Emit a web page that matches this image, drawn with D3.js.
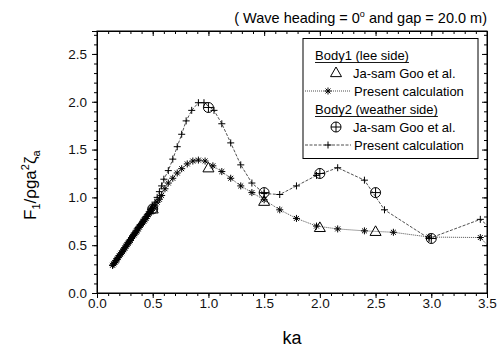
<!DOCTYPE html>
<html>
<head>
<meta charset="utf-8">
<script src="https://cdn.jsdelivr.net/npm/d3@7"></script>
<style>
  body { margin: 0; background: #fff; }
  svg { font-family: "Liberation Sans", Arial, sans-serif; }
</style>
</head>
<body>
<svg id="chart" width="499" height="348"></svg>
<script>
// Body1 (lee side) - present calculation
const body1Ka = [0.14,0.15,0.16,0.17,0.18,0.19,0.20,0.21,0.22,0.23,0.24,0.25,0.26,0.27,0.28,0.29,0.30,0.31,0.32,0.33,0.34,0.35,0.36,0.37,0.38,0.39,0.40,0.41,0.42,0.43,0.44,0.45,0.46,0.47,0.48,0.49,0.50,0.52,0.54,0.56,0.58,0.61,0.64,0.68,0.72,0.76,0.81,0.86,0.91,0.97,1.04,1.12,1.20,1.29,1.39,1.50,1.64,1.79,1.97,2.16,2.40,2.66,2.98,3.44,3.56];
const body1F  = [0.29,0.305,0.32,0.335,0.35,0.37,0.39,0.405,0.42,0.435,0.45,0.47,0.49,0.505,0.52,0.535,0.55,0.57,0.59,0.605,0.62,0.635,0.65,0.67,0.69,0.705,0.72,0.735,0.75,0.765,0.78,0.80,0.82,0.835,0.85,0.865,0.88,0.91,0.95,0.98,1.02,1.09,1.15,1.20,1.255,1.30,1.35,1.38,1.39,1.38,1.33,1.27,1.20,1.12,1.05,0.975,0.87,0.78,0.70,0.67,0.65,0.635,0.585,0.58,0.43];

// Body2 (weather side) - present calculation
const body2Ka = [0.14,0.15,0.16,0.17,0.18,0.19,0.20,0.21,0.22,0.23,0.24,0.25,0.26,0.27,0.28,0.29,0.30,0.31,0.32,0.33,0.34,0.35,0.36,0.37,0.38,0.39,0.40,0.41,0.42,0.43,0.44,0.45,0.46,0.47,0.48,0.49,0.50,0.52,0.54,0.56,0.58,0.60,0.64,0.68,0.72,0.76,0.80,0.85,0.91,0.96,1.05,1.12,1.20,1.29,1.39,1.50,1.64,1.79,1.97,2.16,2.40,2.58,2.98,3.44,3.56];
const body2F  = [0.29,0.305,0.32,0.34,0.36,0.375,0.39,0.405,0.42,0.44,0.46,0.475,0.49,0.51,0.53,0.545,0.56,0.58,0.60,0.615,0.63,0.65,0.67,0.685,0.70,0.715,0.73,0.75,0.77,0.785,0.80,0.815,0.83,0.85,0.87,0.89,0.91,0.95,1.00,1.06,1.12,1.19,1.28,1.40,1.53,1.66,1.80,1.91,1.99,1.99,1.91,1.77,1.57,1.34,1.15,1.04,1.03,1.12,1.23,1.31,1.18,0.87,0.57,0.77,0.65];

// Ja-sam Goo et al.
const gooKa1 = [0.5, 1.0, 1.5, 2.0, 2.5];
const gooF1  = [0.88, 1.31, 0.96, 0.686, 0.645];
const gooKa2 = [0.5, 1.0, 1.5, 2.0, 2.5, 3.0];
const gooF2  = [0.88, 1.94, 1.05, 1.25, 1.05, 0.57];

const xTicks = [0, 0.5, 1.0, 1.5, 2.0, 2.5, 3.0, 3.5];
const yTicks = [0, 0.5, 1.0, 1.5, 2.0, 2.5];

const svg = d3.select("#chart");
const pLeft = 97, pRight = 487, pTop = 31, pBottom = 293;

const x = d3.scaleLinear().domain([0, 3.5]).range([pLeft, pRight]);
const y = d3.scaleLinear().domain([0, 2.74]).range([pBottom, pTop]);

const minorX = d3.range(0, 3.5001, 0.1);
const minorY = d3.range(0, 2.7401, 0.1);

// frame
svg.append("rect")
  .attr("x", pLeft).attr("y", pTop)
  .attr("width", pRight - pLeft).attr("height", pBottom - pTop)
  .attr("fill", "none").attr("stroke", "#000").attr("stroke-width", 1);

// bottom axis (outward)
svg.append("g").attr("transform", "translate(0," + pBottom + ")")
  .call(d3.axisBottom(x).tickValues(xTicks).tickFormat(d3.format(".1f")).tickSize(5).tickPadding(0));
svg.append("g").attr("transform", "translate(0," + pBottom + ")")
  .call(d3.axisBottom(x).tickValues(minorX).tickFormat("").tickSize(3));
// left axis (outward)
svg.append("g").attr("transform", "translate(" + pLeft + ",0)")
  .call(d3.axisLeft(y).tickValues(yTicks).tickFormat(d3.format(".1f")).tickSize(5).tickPadding(5));
svg.append("g").attr("transform", "translate(" + pLeft + ",0)")
  .call(d3.axisLeft(y).tickValues(minorY).tickFormat("").tickSize(3));
// top axis (inward)
svg.append("g").attr("transform", "translate(0," + pTop + ")")
  .call(d3.axisTop(x).tickValues(xTicks).tickFormat("").tickSize(-5));
svg.append("g").attr("transform", "translate(0," + pTop + ")")
  .call(d3.axisTop(x).tickValues(minorX).tickFormat("").tickSize(-3));
// right axis (inward)
svg.append("g").attr("transform", "translate(" + pRight + ",0)")
  .call(d3.axisRight(y).tickValues(yTicks).tickFormat("").tickSize(-5));
svg.append("g").attr("transform", "translate(" + pRight + ",0)")
  .call(d3.axisRight(y).tickValues(minorY).tickFormat("").tickSize(-3));

svg.selectAll(".domain").attr("stroke", "#000");
svg.selectAll(".tick line").attr("stroke", "#000");
svg.selectAll(".tick text").attr("font-size", 13.5).attr("fill", "#111")
  .attr("font-family", "'Liberation Sans', Arial, sans-serif");

// clip
svg.append("clipPath").attr("id", "clip")
  .append("rect").attr("x", pLeft).attr("y", pTop).attr("width", pRight - pLeft).attr("height", pBottom - pTop);

const plot = svg.append("g").attr("clip-path", "url(#clip)");

const line = d3.line().x(d => x(d[0])).y(d => y(d[1]));
const b1 = body1Ka.map((k, i) => [k, body1F[i]]);
const b2 = body2Ka.map((k, i) => [k, body2F[i]]);

plot.append("path").datum(b1).attr("d", line)
  .attr("fill", "none").attr("stroke", "#222").attr("stroke-width", 0.8).attr("stroke-dasharray", "1,1");
plot.append("path").datum(b2).attr("d", line)
  .attr("fill", "none").attr("stroke", "#222").attr("stroke-width", 0.8).attr("stroke-dasharray", "3,1.5");

// marker helpers
function asterisk(g, cx, cy) {
  const s = 3.5;
  g.append("path")
    .attr("d", `M${cx - s},${cy}H${cx + s}M${cx - s * 0.7},${cy - s * 0.7}L${cx + s * 0.7},${cy + s * 0.7}M${cx - s * 0.7},${cy + s * 0.7}L${cx + s * 0.7},${cy - s * 0.7}M${cx},${cy - s}V${cy + s}`)
    .attr("stroke", "#000").attr("stroke-width", 1).attr("fill", "none");
}
function plus(g, cx, cy) {
  const s = 3.5;
  g.append("path").attr("d", `M${cx - s},${cy}H${cx + s}M${cx},${cy - s}V${cy + s}`)
    .attr("stroke", "#000").attr("stroke-width", 1).attr("fill", "none");
}
function triangle(g, cx, cy) {
  const s = 5.5;
  g.append("path").attr("d", `M${cx},${cy - s}L${cx + s},${cy + s * 0.75}L${cx - s},${cy + s * 0.75}Z`)
    .attr("stroke", "#000").attr("stroke-width", 1).attr("fill", "none");
}
function oplus(g, cx, cy) {
  const r = 5;
  g.append("circle").attr("cx", cx).attr("cy", cy).attr("r", r)
    .attr("stroke", "#000").attr("stroke-width", 1).attr("fill", "none");
  g.append("path").attr("d", `M${cx - r},${cy}H${cx + r}M${cx},${cy - r}V${cy + r}`)
    .attr("stroke", "#000").attr("stroke-width", 1);
}

b1.forEach(d => asterisk(plot, x(d[0]), y(d[1])));
b2.forEach(d => plus(plot, x(d[0]), y(d[1])));
gooKa1.forEach((k, i) => triangle(plot, x(k), y(gooF1[i])));
gooKa2.forEach((k, i) => oplus(plot, x(k), y(gooF2[i])));

// legend
const lg = svg.append("g");
lg.append("rect").attr("x", 303).attr("y", 38.5).attr("width", 175).attr("height", 120)
  .attr("fill", "#fff").attr("stroke", "#000").attr("stroke-width", 1);
const fs = 13;
const rows = [55, 73, 91, 109, 127, 145];
function header(txt, cy) {
  const t = lg.append("text").attr("x", 315).attr("y", cy + 5).attr("font-size", fs).text(txt);
  const w = t.node().getComputedTextLength();
  lg.append("line").attr("x1", 315).attr("x2", 315 + w).attr("y1", cy + 7.5).attr("y2", cy + 7.5)
    .attr("stroke", "#000").attr("stroke-width", 0.9);
}
header("Body1 (lee side)", rows[0]);
triangle(lg, 336, rows[1] - 0.5);
lg.append("text").attr("x", 353).attr("y", rows[1] + 5).attr("font-size", fs).text("Ja-sam Goo et al.");
lg.append("line").attr("x1", 305).attr("x2", 351).attr("y1", rows[2]).attr("y2", rows[2])
  .attr("stroke", "#222").attr("stroke-width", 0.8).attr("stroke-dasharray", "1,1");
asterisk(lg, 328, rows[2]);
lg.append("text").attr("x", 354).attr("y", rows[2] + 5).attr("font-size", fs).text("Present calculation");
header("Body2 (weather side)", rows[3]);
oplus(lg, 336, rows[4]);
lg.append("text").attr("x", 353).attr("y", rows[4] + 5).attr("font-size", fs).text("Ja-sam Goo et al.");
lg.append("line").attr("x1", 305).attr("x2", 351).attr("y1", rows[5]).attr("y2", rows[5])
  .attr("stroke", "#222").attr("stroke-width", 0.8).attr("stroke-dasharray", "3,1.5");
plus(lg, 328, rows[5]);
lg.append("text").attr("x", 354).attr("y", rows[5] + 5).attr("font-size", fs).text("Present calculation");

// title
const title = svg.append("text").attr("x", 487).attr("y", 23).attr("text-anchor", "end").attr("font-size", 14.5);
title.append("tspan").text("( Wave heading = 0");
title.append("tspan").attr("dy", -6).attr("font-size", 9).text("o");
title.append("tspan").attr("dy", 6).text(" and gap = 20.0 m)");

// axis titles
svg.append("text").attr("x", 292).attr("y", 344).attr("text-anchor", "middle").attr("font-size", 18).text("ka");

const yl = svg.append("text").attr("transform", "translate(36,220) rotate(-90)")
  .attr("font-size", 17);
yl.append("tspan").text("F");
yl.append("tspan").attr("dy", 4).attr("font-size", 11).text("1");
yl.append("tspan").attr("dy", -4).text("/ρga");
yl.append("tspan").attr("dy", -7).attr("font-size", 11).text("2");
yl.append("tspan").attr("dy", 7).text("ζ");
yl.append("tspan").attr("dy", 4).attr("font-size", 11).text("a");
</script>
</body>
</html>
